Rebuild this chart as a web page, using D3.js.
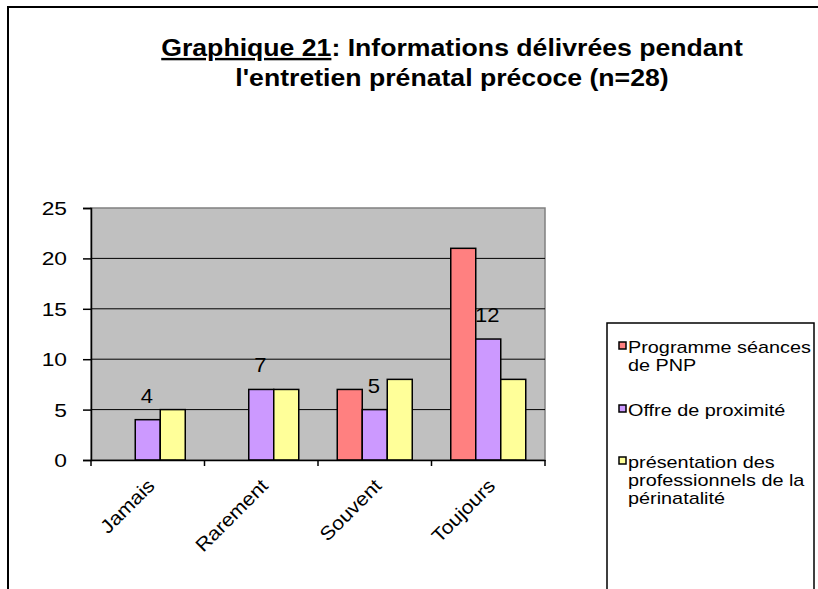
<!DOCTYPE html>
<html>
<head>
<meta charset="utf-8">
<script src="https://cdnjs.cloudflare.com/ajax/libs/d3/7.8.5/d3.min.js"></script>
<style>
  html, body { margin: 0; padding: 0; background: #fff; }
  svg { display: block; }
  text { font-family: Arial, "Liberation Sans", sans-serif; fill: #000; }
</style>
</head>
<body>
<svg id="chart" width="818" height="589"></svg>
<script>
const categories = ["Jamais", "Rarement", "Souvent", "Toujours"];
const seriesNames = ["Programme séances de PNP", "Offre de proximité", "présentation des professionnels de la périnatalité"];
const seriesPNP = [0, 0, 7, 21];
const seriesProximite = [4, 7, 5, 12];
const seriesPresentation = [5, 7, 8, 8];
const yTicks = [0, 5, 10, 15, 20, 25];
const legendLines = [["Programme séances", "de PNP"], ["Offre de proximité"], ["présentation des", "professionnels de la", "périnatalité"]];
const colors = ["#FF8080", "#CC99FF", "#FFFF99"];
const labelSeries = 1; // data labels shown on "Offre de proximité"

const allSeries = [seriesPNP, seriesProximite, seriesPresentation];
const SX = 1.2; // horizontal stretch of the original picture's text

const svg = d3.select("#chart");

// outer chart border
svg.append("rect").attr("x", 8).attr("y", 7).attr("width", 830).attr("height", 600)
  .attr("fill", "none").attr("stroke", "#000").attr("stroke-width", 2);

// title
const title = svg.append("text").attr("text-anchor", "middle")
  .attr("font-weight", "bold").attr("font-size", 24)
  .attr("transform", "translate(452,0) scale(1.11,1)");
const t1 = title.append("tspan").attr("x", 0).attr("y", 56);
t1.append("tspan").attr("text-decoration", "underline").text("Graphique 21");
t1.append("tspan").text(": Informations délivrées pendant");
title.append("tspan").attr("x", 0).attr("y", 86).text("l'entretien prénatal précoce (n=28)");

const plot = { left: 91, right: 545, top: 208, bottom: 460 };

const x = d3.scaleBand().domain(categories).range([plot.left, plot.right]).paddingInner(0).paddingOuter(0);
const xs = d3.scaleBand().domain(d3.range(allSeries.length)).range([0, x.bandwidth()]).paddingInner(0).paddingOuter(0.77);
const y = d3.scaleLinear().domain([0, 25]).range([plot.bottom, plot.top]);

// plot background
svg.append("rect").attr("x", plot.left).attr("y", plot.top)
  .attr("width", plot.right - plot.left).attr("height", plot.bottom - plot.top)
  .attr("fill", "#C0C0C0").attr("stroke", "#808080").attr("stroke-width", 1.5);

// gridlines
svg.append("g").selectAll("line").data(yTicks.filter(d => d > 0 && d < 25)).join("line")
  .attr("x1", plot.left).attr("x2", plot.right)
  .attr("y1", d => y(d)).attr("y2", d => y(d))
  .attr("stroke", "#000").attr("stroke-width", 1);

// bars
const groups = svg.append("g").selectAll("g").data(categories).join("g")
  .attr("transform", d => `translate(${x(d)},0)`);
groups.selectAll("rect").data((c, i) => allSeries.map((s, k) => ({ k, v: s[i] })).filter(d => d.v > 0)).join("rect")
  .attr("x", d => xs(d.k)).attr("width", xs.bandwidth())
  .attr("y", d => y(d.v)).attr("height", d => y(0) - y(d.v))
  .attr("fill", d => colors[d.k]).attr("stroke", "#000").attr("stroke-width", 1.5);

// data labels
groups.append("text").attr("text-anchor", "middle").attr("font-size", 20)
  .attr("transform", (c, i) => `translate(${xs(labelSeries) + xs.bandwidth() / 2 - 1},${y(seriesProximite[i]) - 17}) scale(1.1,1)`)
  .text((c, i) => seriesProximite[i]);

// y axis
const yAxis = svg.append("g").attr("transform", `translate(${plot.left},0)`)
  .call(d3.axisLeft(y).tickValues(yTicks).tickSize(8).tickFormat(""));
yAxis.select(".domain").attr("stroke", "#000").attr("stroke-width", 1.5);
yAxis.selectAll(".tick line").attr("stroke", "#000").attr("stroke-width", 1.5);
svg.append("g").selectAll("text").data(yTicks).join("text")
  .attr("text-anchor", "end").attr("font-size", 19)
  .attr("transform", d => `translate(67,${y(d) + 7}) scale(${SX},1)`)
  .text(d => d);

// x axis
const xAxis = svg.append("g").attr("transform", `translate(0,${plot.bottom})`)
  .call(d3.axisBottom(x).tickSize(0).tickFormat(""));
xAxis.select(".domain").attr("stroke", "#000").attr("stroke-width", 1.5);
const xt = svg.append("g");
xt.selectAll("line").data(categories.concat(["end"])).join("line")
  .attr("x1", (d, i) => i < categories.length ? x(d) : plot.right)
  .attr("x2", (d, i) => i < categories.length ? x(d) : plot.right)
  .attr("y1", plot.bottom).attr("y2", plot.bottom + 6)
  .attr("stroke", "#000").attr("stroke-width", 1.5);
xt.selectAll("text").data(categories).join("text")
  .attr("text-anchor", "end").attr("font-size", 19)
  .attr("transform", d => `translate(${x(d) + x.bandwidth() / 2 + 8},${plot.bottom + 27}) rotate(-45) scale(1.12,1)`)
  .text(d => d);

// legend
const lg = svg.append("g");
lg.append("rect").attr("x", 607).attr("y", 323).attr("width", 207).attr("height", 280)
  .attr("fill", "#fff").attr("stroke", "#000").attr("stroke-width", 1.5);
const itemY = [347, 410, 462];
const lineH = 18;
legendLines.forEach((lines, k) => {
  lg.append("rect").attr("x", 619).attr("y", itemY[k] - 5).attr("width", 7).attr("height", 7)
    .attr("fill", colors[k]).attr("stroke", "#000").attr("stroke-width", 1.5);
  lines.forEach((ln, j) => {
    lg.append("text").attr("font-size", 16)
      .attr("transform", `translate(628,${itemY[k] + 6 + j * lineH}) scale(1.24,1)`)
      .text(ln);
  });
});
</script>
</body>
</html>
